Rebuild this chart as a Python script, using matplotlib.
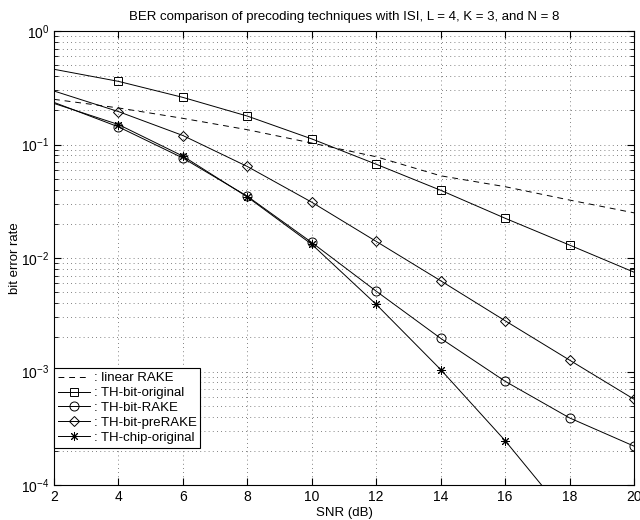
import numpy as np
import matplotlib
matplotlib.use("Agg")
from matplotlib import pyplot as plt
from matplotlib.ticker import LogLocator, NullFormatter, MultipleLocator

plt.rcParams['font.family'] = ['Liberation Sans', 'DejaVu Sans']

# datos
snr = [2, 4, 6, 8, 10, 12, 14, 16, 18, 20]
linear_rake = [0.25, 0.21, 0.17, 0.135, 0.103, 0.078, 0.053, 0.0425, 0.0324, 0.025]
bit_original = [0.46, 0.36, 0.26, 0.178, 0.112, 0.067, 0.0395, 0.0224, 0.013, 0.0075]
bit_rake = [0.235, 0.143, 0.076, 0.035, 0.0137, 0.0051, 0.00196, 0.00082, 0.00039, 0.00022]
bit_prerake = [0.296, 0.195, 0.12, 0.064, 0.031, 0.014, 0.0063, 0.0028, 0.00126, 0.00057]
chip_original = [0.23, 0.15, 0.079, 0.0345, 0.0132, 0.0039, 0.00104, 0.000246, 0.00005, 0.00001]

etiquetas = [': linear RAKE', ': TH-bit-original', ': TH-bit-RAKE',
             ': TH-bit-preRAKE', ': TH-chip-original']

fig = plt.figure(figsize=(6.4, 5.2), dpi=100)
ax = fig.add_axes([54/640, 35/520, 580/640, 454/520])

lw = 0.7
ms = 5.5
ax.semilogy(snr, linear_rake, color='k', lw=lw, ls=(0, (6, 5)), label=etiquetas[0])
ax.semilogy(snr, bit_original, color='k', lw=lw, marker='s', ms=ms, mfc='none',
            mec='k', mew=0.7, markevery=slice(1, None), label=etiquetas[1])
ax.semilogy(snr, bit_rake, color='k', lw=lw, marker='o', ms=ms+1, mfc='none',
            mec='k', mew=0.7, markevery=slice(1, None), label=etiquetas[2])
ax.semilogy(snr, bit_prerake, color='k', lw=lw, marker='D', ms=ms-0.5, mfc='none',
            mec='k', mew=0.7, markevery=slice(1, None), label=etiquetas[3])
ax.semilogy(snr, chip_original, color='k', lw=lw, marker=(8, 2, 0), ms=ms+1,
            mec='k', mew=0.7, markevery=slice(1, None), label=etiquetas[4])

ax.set_xlim(2, 20)
ax.set_ylim(1e-4, 1)
ax.xaxis.set_major_locator(MultipleLocator(2))
ax.yaxis.set_major_locator(LogLocator(base=10, numticks=10))
ax.yaxis.set_minor_locator(LogLocator(base=10, subs=np.arange(2, 10), numticks=20))
ax.yaxis.set_minor_formatter(NullFormatter())

ax.grid(True, which='major', ls=(0, (1, 4)), color='0.35', lw=0.6)
ax.grid(True, which='minor', axis='y', ls=(0, (1, 4)), color='0.35', lw=0.6)
ax.tick_params(which='both', direction='in', top=True, right=True, labelsize=10)
ax.tick_params(which='major', length=5)
ax.tick_params(which='minor', length=3)
for s in ax.spines.values():
    s.set_linewidth(0.8)

ax.set_title('BER comparison of precoding techniques with ISI, L = 4, K = 3, and N = 8',
             fontsize=9.5, pad=8)
ax.set_xlabel('SNR (dB)', fontsize=9.5, labelpad=2)
ax.set_ylabel('bit error rate', fontsize=9.5, labelpad=0)

leg = ax.legend(loc='lower left', bbox_to_anchor=(0, 0.082), fontsize=9.5,
                frameon=True, fancybox=False, edgecolor='k', framealpha=1,
                borderaxespad=0, handlelength=2.4, handletextpad=0.3,
                labelspacing=0.2, borderpad=0.3)
leg.get_frame().set_linewidth(0.8)

plt.savefig('out.png', dpi=100)
